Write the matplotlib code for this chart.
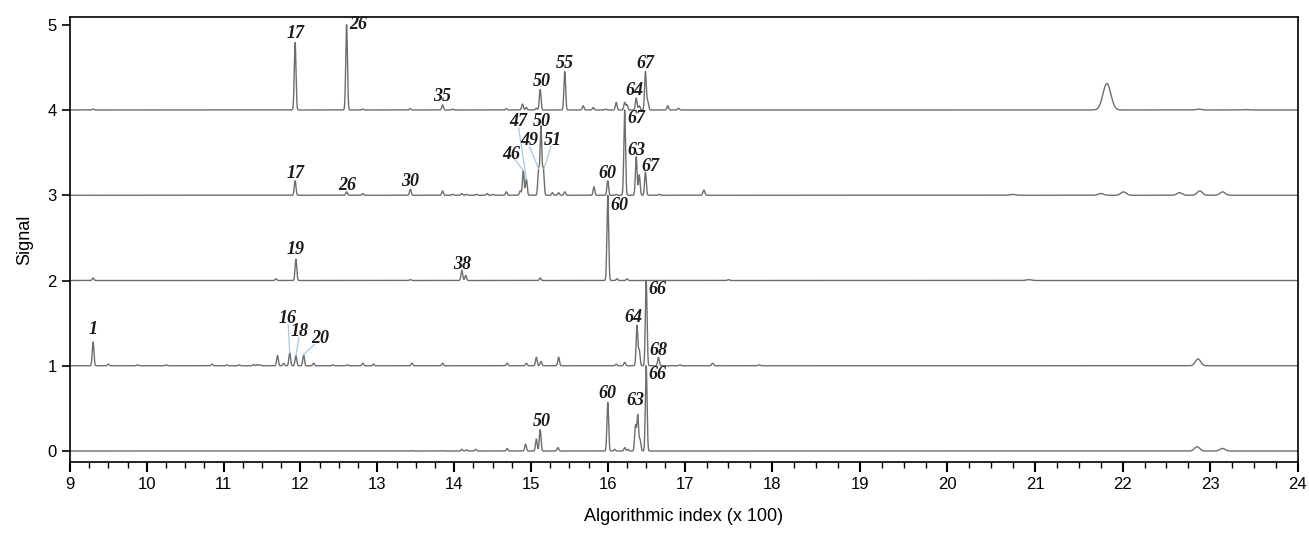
import numpy as np
import matplotlib.pyplot as plt

# peak lists: position (x 100) and height above the trace baseline
peaks0_x = [13.45, 13.85, 14.10, 14.16, 14.28, 14.69, 14.93, 15.07, 15.12, 15.35, 16.00, 16.09, 16.22,
            16.26, 16.36, 16.39, 16.42, 16.50, 22.85, 23.14]
peaks0_h = [0.005, 0.005, 0.02, 0.015, 0.02, 0.03, 0.08, 0.14, 0.25, 0.04, 0.57, 0.02, 0.04,
            0.02, 0.30, 0.42, 0.13, 1.00, 0.05, 0.03]

peaks1_x = [9.30, 9.50, 9.88, 10.25, 10.85, 11.04, 11.20, 11.39, 11.44, 11.48, 11.70, 11.78, 11.86,
            11.94, 12.04, 12.17, 12.42, 12.61, 12.81, 12.95, 13.45, 13.85, 14.69, 14.94, 15.07, 15.13,
            15.36, 16.11, 16.22, 16.38, 16.41, 16.50, 16.66, 16.94, 17.32, 17.85, 22.86]
peaks1_h = [0.28, 0.02, 0.01, 0.01, 0.02, 0.01, 0.01, 0.015, 0.015, 0.01, 0.12, 0.03, 0.15,
            0.12, 0.13, 0.03, 0.01, 0.01, 0.03, 0.02, 0.03, 0.03, 0.03, 0.03, 0.10, 0.05,
            0.10, 0.02, 0.04, 0.47, 0.18, 1.00, 0.10, 0.01, 0.03, 0.01, 0.08]

peaks2_x = [9.30, 11.68, 11.94, 13.43, 14.10, 14.15, 15.12, 16.00, 16.12, 16.25, 17.50, 20.93]
peaks2_h = [0.03, 0.02, 0.25, 0.01, 0.12, 0.06, 0.03, 1.00, 0.02, 0.02, 0.01, 0.01]

peaks3_x = [11.93, 12.60, 12.81, 13.43, 13.85, 13.98, 14.10, 14.16, 14.29, 14.43, 14.50, 14.68, 14.86,
            14.90, 14.94, 15.10, 15.13, 15.16, 15.28, 15.36, 15.44, 15.82, 16.00, 16.11, 16.22, 16.37,
            16.41, 16.49, 16.67, 17.22, 20.75, 21.75, 22.01, 22.65, 22.88, 23.14]
peaks3_h = [0.17, 0.04, 0.02, 0.07, 0.05, 0.01, 0.02, 0.01, 0.01, 0.02, 0.01, 0.04, 0.05,
            0.29, 0.19, 0.31, 0.80, 0.31, 0.03, 0.03, 0.04, 0.10, 0.17, 0.01, 1.00, 0.45,
            0.24, 0.27, 0.01, 0.06, 0.01, 0.02, 0.04, 0.03, 0.05, 0.04]

peaks4_x = [9.30, 11.93, 12.60, 12.81, 13.43, 13.85, 13.98, 14.68, 14.89, 14.94, 15.07, 15.12, 15.44,
            15.68, 15.81, 15.97, 16.11, 16.22, 16.25, 16.37, 16.41, 16.49, 16.52, 16.78, 16.92,
            21.82, 22.87, 23.40]
peaks4_h = [0.01, 0.79, 1.00, 0.01, 0.015, 0.06, 0.01, 0.015, 0.07, 0.03, 0.02, 0.24, 0.45,
            0.05, 0.03, 0.01, 0.09, 0.09, 0.06, 0.14, 0.05, 0.45, 0.10, 0.05, 0.02,
            0.31, 0.01, 0.005]

traces = [(peaks0_x, peaks0_h), (peaks1_x, peaks1_h), (peaks2_x, peaks2_h),
          (peaks3_x, peaks3_h), (peaks4_x, peaks4_h)]
offsets = [0, 1, 2, 3, 4]

# peak labels: (text, x, y, horizontal alignment)
labels = [
    ("50", 15.14, 0.35, "center"), ("60", 16.00, 0.68, "center"), ("63", 16.36, 0.59, "center"),
    ("66", 16.53, 0.90, "left"),
    ("1", 9.30, 1.42, "center"), ("16", 11.83, 1.56, "center"), ("18", 11.99, 1.40, "center"),
    ("20", 12.26, 1.32, "center"), ("64", 16.33, 1.57, "center"), ("66", 16.53, 1.90, "left"),
    ("68", 16.66, 1.18, "center"),
    ("19", 11.93, 2.36, "center"), ("38", 14.10, 2.19, "center"), ("60", 16.03, 2.88, "left"),
    ("17", 11.93, 3.26, "center"), ("26", 12.61, 3.11, "center"), ("30", 13.43, 3.16, "center"),
    ("46", 14.75, 3.48, "center"), ("47", 14.84, 3.86, "center"), ("49", 14.98, 3.64, "center"),
    ("50", 15.14, 3.87, "center"), ("51", 15.28, 3.64, "center"), ("60", 16.00, 3.25, "center"),
    ("67", 16.25, 3.90, "left"), ("63", 16.37, 3.52, "center"), ("67", 16.55, 3.34, "center"),
    ("17", 11.93, 4.90, "center"), ("26", 12.63, 5.00, "left"), ("35", 13.85, 4.16, "center"),
    ("50", 15.14, 4.34, "center"), ("55", 15.44, 4.55, "center"), ("64", 16.35, 4.23, "center"),
    ("67", 16.49, 4.55, "center"),
]

# leader lines from label to peak: (x_label, y_label, x_peak, y_peak)
leaders = [
    (11.84, 1.48, 11.86, 1.15), (11.98, 1.33, 11.94, 1.12), (12.18, 1.25, 12.04, 1.13),
    (14.79, 3.42, 14.90, 3.29), (14.84, 3.79, 14.94, 3.19), (14.98, 3.57, 15.10, 3.31),
    (15.26, 3.57, 15.17, 3.31),
]


# the original x axis is stretched unevenly: 9-17 is narrower per unit than 17-24
def fwd(x):
    x = np.asarray(x, dtype=float)
    return np.where(x <= 17, (x - 9) * 76.9, 615.2 + (x - 17) * 87.7)


def inv(u):
    u = np.asarray(u, dtype=float)
    return np.where(u <= 615.2, 9 + u / 76.9, 17 + (u - 615.2) / 87.7)


fig = plt.figure(figsize=(13.09, 5.33), dpi=100)
ax = fig.add_axes([0.0535, 0.133, 0.938, 0.835])
ax.set_xscale("function", functions=(fwd, inv))

xs = np.linspace(9, 24, 15001)
for (px, ph), off in zip(traces, offsets):
    y = np.full_like(xs, float(off))
    for p, h in zip(px, ph):
        w = 0.011 if p < 20 else 0.03
        if p == 21.82:
            w = 0.045
        y += h * np.exp(-0.5 * ((xs - p) / w) ** 2)
    ax.plot(xs, y, color="#6e6e6e", lw=1.0)

for x0, y0, x1, y1 in leaders:
    ax.plot([x0, x1], [y0, y1], color="#a9c8e3", lw=0.9)

for t, x, y, ha in labels:
    ax.text(x, y, t, ha=ha, va="center", fontsize=13, fontweight="bold", fontstyle="italic",
            family="Liberation Serif", color="#1a1a1a")

ax.set_xlim(9, 24)
ax.set_ylim(-0.13, 5.09)
ax.set_xticks(range(9, 25))
ax.set_xticklabels([str(v) for v in range(9, 25)])
ax.set_xticks(np.arange(9, 24.01, 0.25), minor=True)
ax.set_yticks(range(0, 6))
ax.tick_params(axis="x", which="major", direction="out", length=7, width=1.5, labelsize=12)
ax.tick_params(axis="x", which="minor", direction="out", length=4, width=1.0)
ax.tick_params(axis="y", which="major", direction="out", length=6, width=1.2, labelsize=12)
for lab in ax.get_xticklabels() + ax.get_yticklabels():
    lab.set_family("Liberation Sans")
for s in ax.spines.values():
    s.set_linewidth(1.2)

ax.set_xlabel("Algorithmic index (x 100)", fontsize=13, family="Liberation Sans", labelpad=12)
ax.set_ylabel("Signal", fontsize=13, family="Liberation Sans", labelpad=10)

fig.savefig("out.png", dpi=100)
